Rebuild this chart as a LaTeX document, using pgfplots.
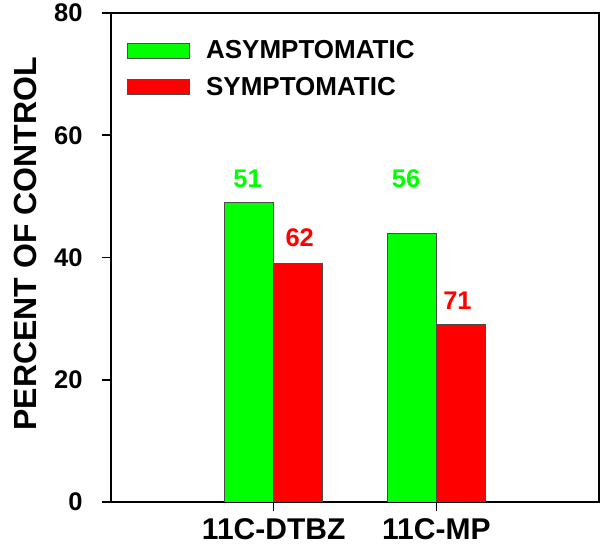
\documentclass[border=0pt]{standalone}
\usepackage{pgfplots}
\pgfplotsset{compat=1.18}
\usepackage{fontspec}
\setmainfont{Liberation Sans}
\definecolor{bargreen}{RGB}{0,255,0}
\definecolor{barred}{RGB}{255,0,0}
\newcommand{\bigfont}[1]{\bfseries\fontsize{#1}{#1}\selectfont}

\begin{document}
\begin{tikzpicture}
\begin{axis}[
  name=ax,
  scale only axis,
  width=488bp, height=489bp,
  xmin=0, xmax=3, ymin=0, ymax=80,
  ybar=0pt, bar width=0.3,
  xtick={1,2}, xticklabels={11C-DTBZ,11C-MP},
  ytick={0,20,40,60,80},
  xtick pos=bottom, ytick pos=left,
  tick align=outside,
  major tick length=9bp,
  axis line style={line width=2.2bp},
  every tick/.style={line width=1.6bp, black},
  /pgf/number format/assume math mode=true,
  yticklabel style={font=\bigfont{25.5bp}, xshift=-16bp},
  xticklabel style={font=\bigfont{30bp}, yshift=-4bp},
  ylabel={PERCENT OF CONTROL},
  ylabel style={font=\bigfont{32bp}, at={(axis description cs:-0.176,0.528)}, anchor=center},
  legend style={draw=none, fill=none, at={(axis description cs:0.033,0.948)}, anchor=north west,
    font=\bigfont{26bp}, row sep=13bp, inner sep=0pt},
  legend cell align=left,
  legend image code/.code={\draw[#1, draw=black!70, line width=0.8bp] (0bp,-7.5bp) rectangle (62bp,7.5bp); \path (76bp,0bp);},
]
\addplot[fill=bargreen, draw=black!70, line width=0.8bp] coordinates {(1,49) (2,44)};
\addplot[fill=barred, draw=black!70, line width=0.8bp] coordinates {(1,39) (2,29)};
\legend{ASYMPTOMATIC, SYMPTOMATIC}
\node[text=bargreen, font=\bigfont{25.5bp}] at (axis cs:0.84,52.9) {51};
\node[text=barred, font=\bigfont{25.5bp}] at (axis cs:1.16,43.3) {62};
\node[text=bargreen, font=\bigfont{25.5bp}] at (axis cs:1.814,52.9) {56};
\node[text=barred, font=\bigfont{25.5bp}] at (axis cs:2.13,32.9) {71};
\end{axis}
\pgfresetboundingbox
\path[use as bounding box] ([xshift=-111bp,yshift=-51bp]ax.south west) rectangle ([xshift=2bp,yshift=13bp]ax.north east);
\end{tikzpicture}
\end{document}
